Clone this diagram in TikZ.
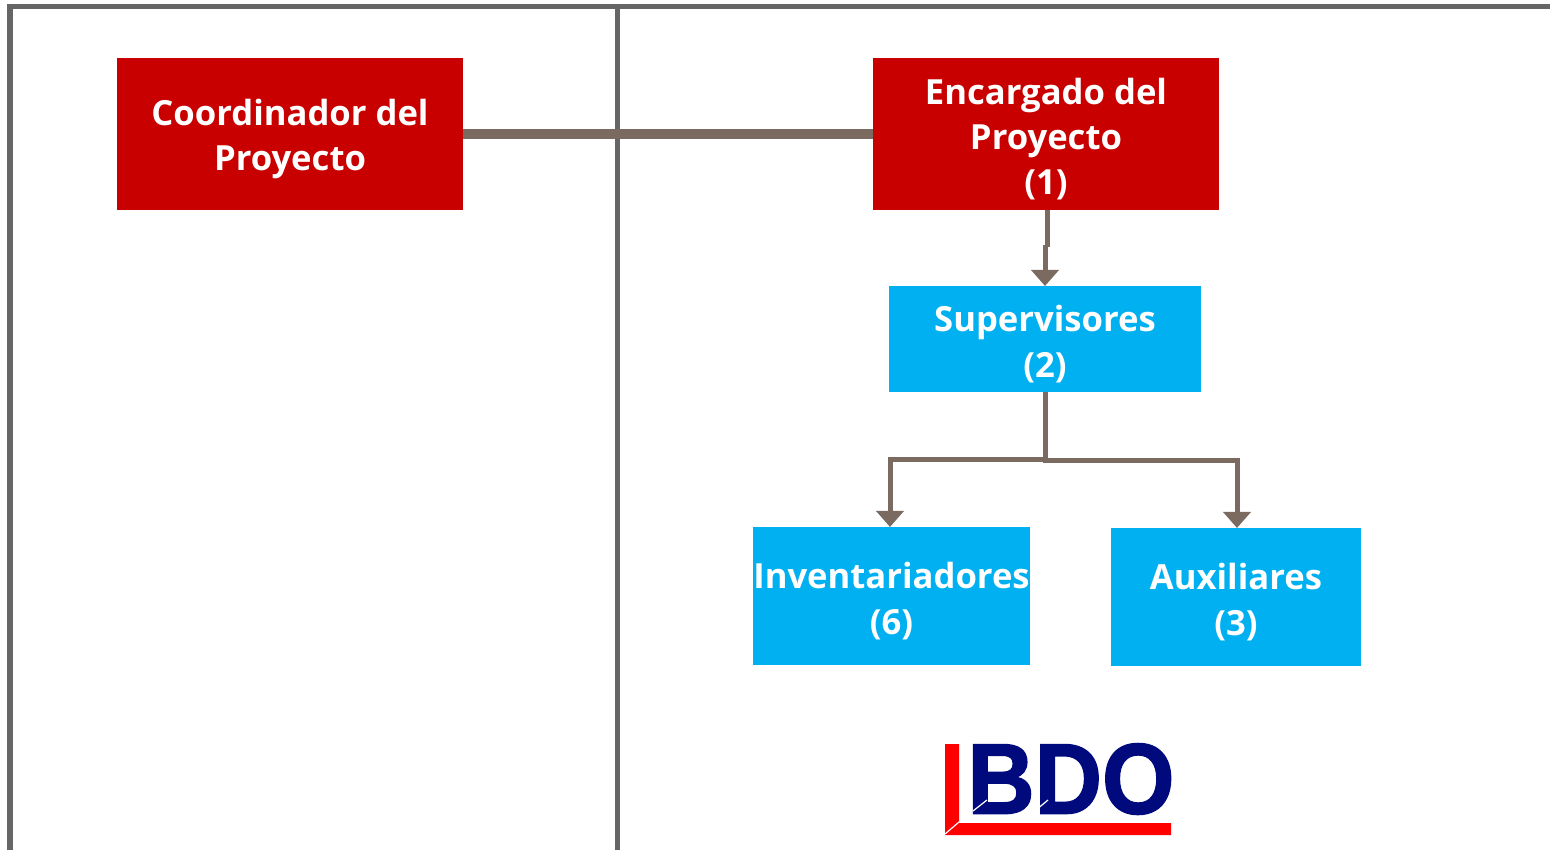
\documentclass[tikz,border=0pt]{standalone}
\usepackage{fontspec}
\usepackage{graphicx}
\setmainfont{Open Sans}
\usepackage{xcolor}
\usetikzlibrary{arrows.meta, positioning}
\definecolor{framegray}{HTML}{666666}
\definecolor{linkbrown}{HTML}{7B6A60}
\definecolor{bossred}{HTML}{C80000}
\definecolor{staffblue}{HTML}{00B0F0}
\definecolor{logoblue}{HTML}{000A7D}
\definecolor{logored}{HTML}{FF0000}
\newfontfamily\logofont[BoldFeatures={FakeBold=1.6}]{Liberation Sans}
\newcommand{\drop}{\rule{0pt}{10.3pt}}

\begin{document}
\begin{tikzpicture}[x=0.01cm, y=-0.01cm, >={Triangle[width=0.27cm, length=0.16cm]}]
	\tikzstyle{frameline} = [draw=framegray, line width=0.05cm]
	\tikzstyle{link} = [draw=linkbrown, line width=0.05cm]
	\tikzstyle{boxtext} = [text=white, align=center, inner sep=0pt, outer sep=0pt, font=\fontsize{9.85pt}{12.9pt}\selectfont\bfseries]
	\tikzstyle{boss} = [boxtext, fill=bossred, minimum width=3.46cm, minimum height=1.52cm]
	\tikzstyle{staff} = [boxtext, fill=staffblue]

	\useasboundingbox (0,0) rectangle (1550,850);

	\coordinate (topleft)	at (10,6);
	\coordinate (topmid)	at (617.5,6);
	\coordinate (topright)	at (1550,6);
	\coordinate (botleft)	at (10,850);
	\coordinate (botmid)	at (617.5,850);

	\draw[frameline] (botleft) -- (topleft) -- (topright);
	\draw[frameline] (topmid) -- (botmid);

	\node[boss]		at (290,134)	(coord)	{\drop Coordinador del\\Proyecto};
	\node[boss]		at (1046,134)	(enc)	{\drop Encargado del\\Proyecto\\(1)};
	\node[staff, minimum width=3.12cm, minimum height=1.06cm]	at (1045,339)	(sup)	{\drop Supervisores\\(2)};
	\node[staff, minimum width=2.77cm, minimum height=1.38cm]	at (891.5,596)	(inv)	{\drop Inventariadores\\(6)};
	\node[staff, minimum width=2.50cm, minimum height=1.38cm]	at (1236,597)	(aux)	{\drop Auxiliares\\(3)};

	\coordinate (jog)		at (1047,247);
	\coordinate (jogend)	at (1045,245);
	\coordinate (leftbend)	at (890,459);
	\coordinate (rightbend)	at (1237,460);

	\draw[link, line width=0.1cm] (coord.east) -- (enc.west);
	\draw[link] (enc.south -| jog) -- (jog);
	\draw[link, ->] (jogend) -- (sup.north);
	\draw[link, ->] (sup.south) -- (sup.south |- leftbend) -- (leftbend) -- (leftbend |- inv.north);
	\draw[link, ->] (sup.south) -- (sup.south |- rightbend) -- (rightbend) -- (rightbend |- aux.north);

	% logo
	\fill[logored] (945,744) -- (959,744) -- (959,823) -- (1171,823) -- (1171,835) -- (945,835) -- cycle;
	\draw[white, line width=0.012cm] (945,834) -- (959,822);
	\node[text=logoblue, inner sep=0pt, font=\fontsize{28.5pt}{28.5pt}\selectfont\logofont\bfseries] at (1071,779) (bdo) {\scalebox{0.93}[1]{BDO}};
	\draw[white, line width=0.012cm] (973,811) -- (987,800);
	\draw[white, line width=0.012cm] (1036,810) -- (1048,800);
\end{tikzpicture}
\end{document}
